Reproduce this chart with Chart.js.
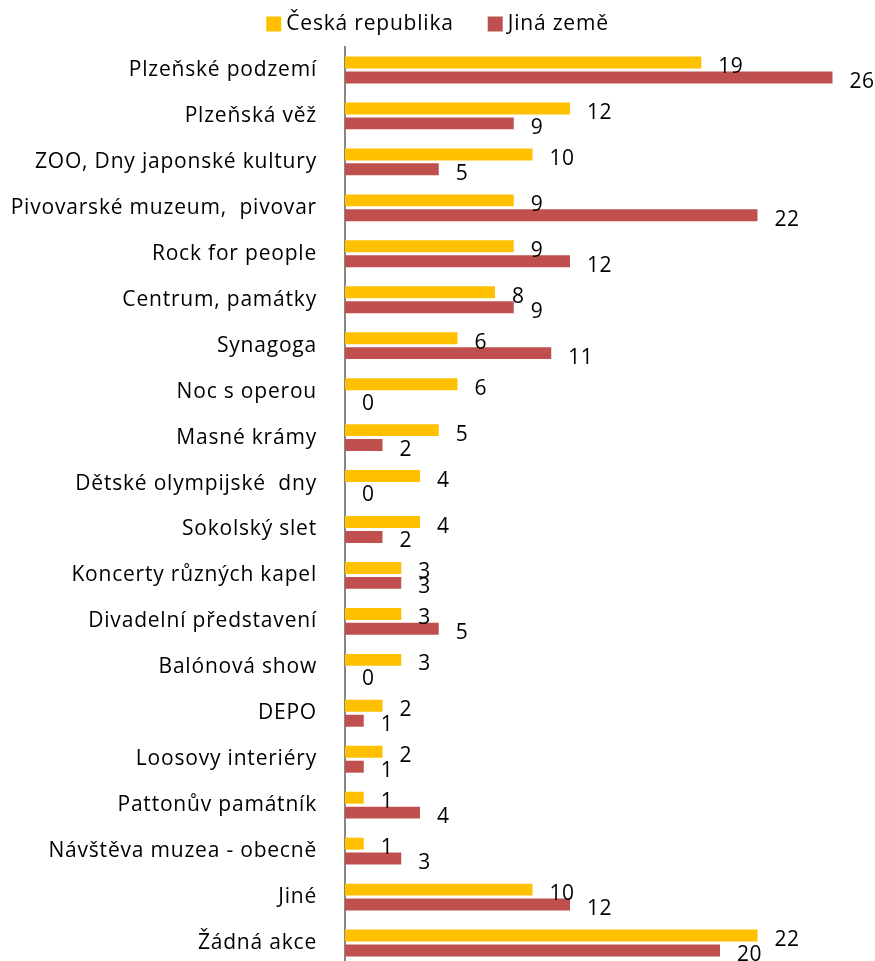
<!DOCTYPE html>
<html lang="cs">

<head>
    <meta charset="UTF-8">
    <title>Navštívené akce</title>
    <script src="https://cdn.jsdelivr.net/npm/chart.js@4.4.0/dist/chart.umd.min.js"></script>
    <style>
        html,
        body {
            margin: 0;
            padding: 0;
            background: #fff;
            overflow: hidden;
        }
    </style>
</head>

<body>
    <canvas id="myChart" width="875" height="966"></canvas>
    <script>
        // akce a počty odpovědí
        var akce = [
            'Plzeňské podzemí',
            'Plzeňská věž',
            'ZOO, Dny japonské kultury',
            'Pivovarské muzeum,  pivovar',
            'Rock for people',
            'Centrum, památky',
            'Synagoga',
            'Noc s operou',
            'Masné krámy',
            'Dětské olympijské  dny',
            'Sokolský slet',
            'Koncerty různých kapel',
            'Divadelní představení',
            'Balónová show',
            'DEPO',
            'Loosovy interiéry',
            'Pattonův památník',
            'Návštěva muzea - obecně',
            'Jiné',
            'Žádná akce'
        ];
        var ceskaRepublika = [19, 12, 10, 9, 9, 8, 6, 6, 5, 4, 4, 3, 3, 3, 2, 2, 1, 1, 10, 22];
        var jinaZeme = [26, 9, 5, 22, 12, 9, 11, 0, 2, 0, 2, 3, 5, 0, 1, 1, 4, 3, 12, 20];

        var pismo = '"Open Sans", sans-serif';
        var rozpal = '0.8px';

        // širší rozpal písma pro popisky os
        var rozpalPlugin = {
            id: 'rozpal',
            beforeDraw: function (chart) {
                chart.ctx.letterSpacing = rozpal;
            }
        };

        // popisky hodnot vpravo od konce sloupce
        var hodnotyPlugin = {
            id: 'hodnoty',
            afterDatasetsDraw: function (chart) {
                var ctx = chart.ctx;
                ctx.save();
                ctx.letterSpacing = '0.5px';
                ctx.font = '21px ' + pismo;
                ctx.fillStyle = '#000';
                ctx.textAlign = 'left';
                ctx.textBaseline = 'alphabetic';
                chart.data.datasets.forEach(function (ds, i) {
                    chart.getDatasetMeta(i).data.forEach(function (bar, j) {
                        ctx.fillText(ds.data[j], bar.x + 17, bar.y + 10.5);
                    });
                });
                ctx.restore();
            }
        };

        // legenda nahoře uprostřed
        var legendaPlugin = {
            id: 'legenda',
            afterDraw: function (chart) {
                var ctx = chart.ctx;
                var box = 15, mezera = 5, odstup = 34;
                ctx.save();
                ctx.letterSpacing = rozpal;
                ctx.font = '21px ' + pismo;
                ctx.textBaseline = 'middle';
                var polozky = chart.data.datasets.map(function (ds) {
                    return { text: ds.label, barva: ds.backgroundColor, w: ctx.measureText(ds.label).width };
                });
                var celkem = polozky.reduce(function (s, p) { return s + box + mezera + p.w; }, 0) + odstup * (polozky.length - 1);
                var x = (chart.width - celkem) / 2;
                var y = 24;
                polozky.forEach(function (p) {
                    ctx.fillStyle = p.barva;
                    ctx.fillRect(x, y - box / 2, box, box);
                    ctx.fillStyle = '#000';
                    ctx.fillText(p.text, x + box + mezera, y);
                    x += box + mezera + p.w + odstup;
                });
                ctx.restore();
            }
        };

        var ctx = document.getElementById('myChart').getContext('2d');
        var barChart = new Chart(ctx, {
            type: 'bar',
            data: {
                labels: akce,
                datasets: [{
                    label: 'Česká republika',
                    data: ceskaRepublika,
                    backgroundColor: '#FFC000',
                    barPercentage: 0.8,
                    categoryPercentage: 0.65
                }, {
                    label: 'Jiná země',
                    data: jinaZeme,
                    backgroundColor: '#C0504D',
                    barPercentage: 0.8,
                    categoryPercentage: 0.65
                }]
            },
            options: {
                indexAxis: 'y',
                responsive: false,
                animation: false,
                layout: {
                    padding: { left: 0, right: 5, top: 47, bottom: 0 }
                },
                plugins: {
                    legend: { display: false },
                    tooltip: { enabled: false }
                },
                scales: {
                    x: {
                        display: false,
                        min: 0,
                        max: 28
                    },
                    y: {
                        grid: { display: false },
                        border: { display: true, color: '#868686', width: 2 },
                        ticks: {
                            color: '#000',
                            padding: 20,
                            font: { family: pismo, size: 21 }
                        },
                        afterFit: function (scale) {
                            scale.width = 345;
                            scale.paddingTop = 0;
                            scale.paddingBottom = 0;
                        }
                    }
                }
            },
            plugins: [rozpalPlugin, hodnotyPlugin, legendaPlugin]
        });
    </script>
</body>

</html>
